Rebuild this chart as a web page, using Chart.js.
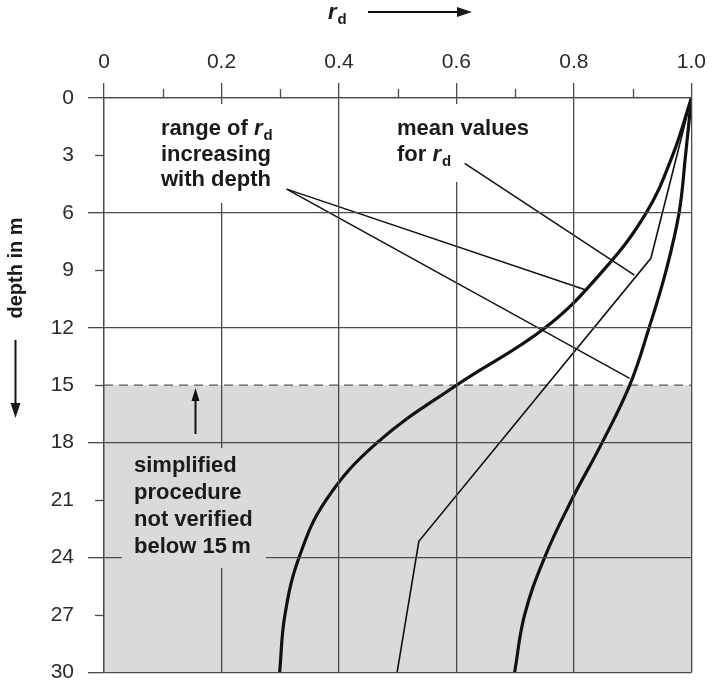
<!DOCTYPE html>
<html>
<head>
<meta charset="utf-8">
<script src="https://cdn.jsdelivr.net/npm/chart.js@4.4.1/dist/chart.umd.min.js"></script>
<style>
    html, body { margin: 0; padding: 0; background: #fff; }
    #wrap { width: 714px; height: 699px; position: relative; }
</style>
</head>
<body>
<div id="wrap"><canvas id="rdChart"></canvas></div>
<script>
// range of r_d with depth
const lowerDepth = [0, 3, 6, 9, 12, 15, 18, 21, 24, 27, 30];
const lowerRd    = [1.0, 0.968, 0.923, 0.850, 0.751, 0.600, 0.465, 0.378, 0.332, 0.308, 0.299];

const upperDepth = [0, 3, 6, 9, 12, 15, 18, 21, 24, 27, 30];
const upperRd    = [1.0, 0.990, 0.979, 0.957, 0.928, 0.895, 0.848, 0.796, 0.750, 0.716, 0.699];

// mean values for r_d
const meanDepth = [0, 8.37, 23.15, 30];
const meanRd    = [1.0, 0.931, 0.536, 0.499];

// leader lines from the labels
const rangeLeaderA = [[0.311, 4.76], [0.818, 10.0]];
const rangeLeaderB = [[0.311, 4.76], [0.895, 14.64]];
const meanLeader   = [[0.614, 3.41], [0.903, 9.25]];

// limit of the simplified procedure
const limitDepth = 15;
const maxDepth = 30;

const rdLabels = ['0', '0.2', '0.4', '0.6', '0.8', '1.0'];

const FONT = "'Liberation Sans', Arial, sans-serif";
const INK = '#111';
const GRID = '#4a4a4a';
const SHADE = '#dadada';

const toPts = (xs, ys) => xs.map((v, i) => ({ x: v, y: ys[i] }));
const pairPts = arr => arr.map(p => ({ x: p[0], y: p[1] }));

function isMajorX(v) { return Math.round(v * 10) % 2 === 0; }
function isMajorY(v) { return Math.round(v) % 6 === 0; }

// draw text with italic r and subscript d
function drawRich(ctx, x, y, parts, size) {
    size = size || 22;
    parts.forEach(p => {
        if (p.sub) {
            ctx.font = 'bold 15px ' + FONT;
            ctx.fillText(p.t, x, y + 5);
        } else {
            ctx.font = (p.italic ? 'italic ' : '') + 'bold ' + size + 'px ' + FONT;
            ctx.fillText(p.t, x, y);
        }
        x += ctx.measureText(p.t).width + (p.italic ? 1 : 0);
    });
}

function arrowHead(ctx, tx, ty, dir) {
    ctx.beginPath();
    if (dir === 'right') {
        ctx.moveTo(tx, ty); ctx.lineTo(tx - 15, ty - 5); ctx.lineTo(tx - 15, ty + 5);
    } else if (dir === 'down') {
        ctx.moveTo(tx, ty); ctx.lineTo(tx - 5, ty - 15); ctx.lineTo(tx + 5, ty - 15);
    } else {
        ctx.moveTo(tx, ty); ctx.lineTo(tx - 4, ty + 13); ctx.lineTo(tx + 4, ty + 13);
    }
    ctx.closePath();
    ctx.fill();
}

const annotations = {
    id: 'annotations',
    afterDraw(chart) {
        const ctx = chart.ctx;
        const xs = chart.scales.x, ys = chart.scales.y;
        const area = chart.chartArea;
        ctx.save();

        // minor ticks
        ctx.strokeStyle = GRID;
        ctx.lineWidth = 1.3;
        xs.ticks.forEach(t => {
            if (isMajorX(t.value)) return;
            const px = Math.round(xs.getPixelForValue(t.value)) + 0.5;
            ctx.beginPath(); ctx.moveTo(px, area.top); ctx.lineTo(px, area.top - 9); ctx.stroke();
        });
        ys.ticks.forEach(t => {
            if (isMajorY(t.value)) return;
            const py = Math.round(ys.getPixelForValue(t.value)) + 0.5;
            ctx.beginPath(); ctx.moveTo(area.left, py); ctx.lineTo(area.left - 9, py); ctx.stroke();
        });

        // label backgrounds
        ctx.fillStyle = '#fff';
        ctx.fillRect(150, 104, 130, 99);
        ctx.fillRect(390, 104, 150, 37);
        ctx.fillRect(390, 141, 73, 41);
        ctx.fillStyle = SHADE;
        ctx.fillRect(122, 448, 144, 120);

        ctx.fillStyle = '#1a1a1a';
        ctx.textBaseline = 'alphabetic';
        ctx.textAlign = 'left';
        drawRich(ctx, 161, 135, [{ t: 'range of ' }, { t: 'r', italic: true }, { t: 'd', sub: true }]);
        drawRich(ctx, 161, 160.5, [{ t: 'increasing' }]);
        drawRich(ctx, 161, 186, [{ t: 'with depth' }]);

        drawRich(ctx, 397, 135, [{ t: 'mean values' }]);
        drawRich(ctx, 397, 160.5, [{ t: 'for ' }, { t: 'r', italic: true }, { t: 'd', sub: true }]);

        drawRich(ctx, 134, 472, [{ t: 'simplified' }]);
        drawRich(ctx, 134, 499, [{ t: 'procedure' }]);
        drawRich(ctx, 134, 526, [{ t: 'not verified' }]);
        drawRich(ctx, 134, 553, [{ t: 'below 15\u2009m' }]);

        // arrow pointing to the 15 m limit
        const ax = Math.round(xs.getPixelForValue(0.155)) + 0.5;
        const aTop = ys.getPixelForValue(15.15);
        const aBot = ys.getPixelForValue(17.55);
        ctx.strokeStyle = INK;
        ctx.fillStyle = INK;
        ctx.lineWidth = 2;
        ctx.beginPath(); ctx.moveTo(ax, aBot); ctx.lineTo(ax, aTop + 10); ctx.stroke();
        arrowHead(ctx, ax, aTop, 'up');

        // top axis title  r_d -->
        ctx.fillStyle = '#1a1a1a';
        drawRich(ctx, 328, 19, [{ t: 'r', italic: true }, { t: 'd', sub: true }]);
        ctx.beginPath(); ctx.moveTo(368, 12); ctx.lineTo(460, 12); ctx.stroke();
        arrowHead(ctx, 472, 12, 'right');

        // left axis title, rotated
        ctx.save();
        ctx.translate(22, 268);
        ctx.rotate(-Math.PI / 2);
        ctx.textAlign = 'center';
        ctx.font = 'bold 20px ' + FONT;
        ctx.fillText('depth in m', 0, 0);
        ctx.restore();
        ctx.beginPath(); ctx.moveTo(15.5, 340); ctx.lineTo(15.5, 405); ctx.stroke();
        arrowHead(ctx, 15.5, 418, 'down');

        ctx.restore();
    }
};

const lineBase = { showLine: true, pointRadius: 0, fill: false, borderColor: INK };

const data = {
    datasets: [
        {
            label: 'not verified region',
            data: [{ x: 0, y: limitDepth }, { x: 1, y: limitDepth }],
            showLine: true, pointRadius: 0,
            fill: { value: maxDepth },
            backgroundColor: SHADE,
            borderColor: '#555',
            borderWidth: 1.3,
            borderDash: [9, 6],
            order: 10
        },
        Object.assign({ label: 'lower bound', data: toPts(lowerRd, lowerDepth), borderWidth: 3.2, tension: 0.4 }, lineBase),
        Object.assign({ label: 'upper bound', data: toPts(upperRd, upperDepth), borderWidth: 3.2, tension: 0.4 }, lineBase),
        Object.assign({ label: 'mean', data: toPts(meanRd, meanDepth), borderWidth: 1.6, tension: 0 }, lineBase),
        Object.assign({ label: 'leader a', data: pairPts(rangeLeaderA), borderWidth: 1.5 }, lineBase),
        Object.assign({ label: 'leader b', data: pairPts(rangeLeaderB), borderWidth: 1.5 }, lineBase),
        Object.assign({ label: 'leader mean', data: pairPts(meanLeader), borderWidth: 1.5 }, lineBase)
    ]
};

const config = {
    type: 'scatter',
    data: data,
    options: {
        responsive: true,
        maintainAspectRatio: false,
        animation: false,
        layout: { padding: { left: 0, top: 0, right: 18, bottom: 11 } },
        plugins: { legend: { display: false }, tooltip: { enabled: false } },
        scales: {
            x: {
                type: 'linear',
                position: 'top',
                min: 0,
                max: 1,
                afterFit: s => { s.height = 98; },
                ticks: {
                    stepSize: 0.1,
                    autoSkip: false,
                    maxRotation: 0,
                    padding: 8,
                    color: '#2a2a2a',
                    font: { family: FONT, size: 21 },
                    callback: v => isMajorX(v) ? rdLabels[Math.round(v * 5)] : ''
                },
                grid: {
                    z: 1,
                    lineWidth: 1.3,
                    tickLength: 15,
                    color: c => isMajorX(c.tick.value) ? GRID : 'rgba(0,0,0,0)',
                    tickColor: c => isMajorX(c.tick.value) ? GRID : 'rgba(0,0,0,0)'
                },
                border: { z: 1, color: GRID, width: 1.3 }
            },
            y: {
                type: 'linear',
                reverse: true,
                min: 0,
                max: maxDepth,
                afterFit: s => { s.width = 104; },
                ticks: {
                    stepSize: 3,
                    autoSkip: false,
                    padding: 14,
                    color: '#2a2a2a',
                    font: { family: FONT, size: 21 }
                },
                grid: {
                    z: 1,
                    lineWidth: 1.3,
                    tickLength: 16,
                    color: c => isMajorY(c.tick.value) ? GRID : 'rgba(0,0,0,0)',
                    tickColor: c => isMajorY(c.tick.value) ? GRID : 'rgba(0,0,0,0)'
                },
                border: { z: 1, color: GRID, width: 1.3 }
            }
        }
    },
    plugins: [annotations]
};

var rdChart = new Chart(document.getElementById('rdChart'), config);
</script>
</body>
</html>
